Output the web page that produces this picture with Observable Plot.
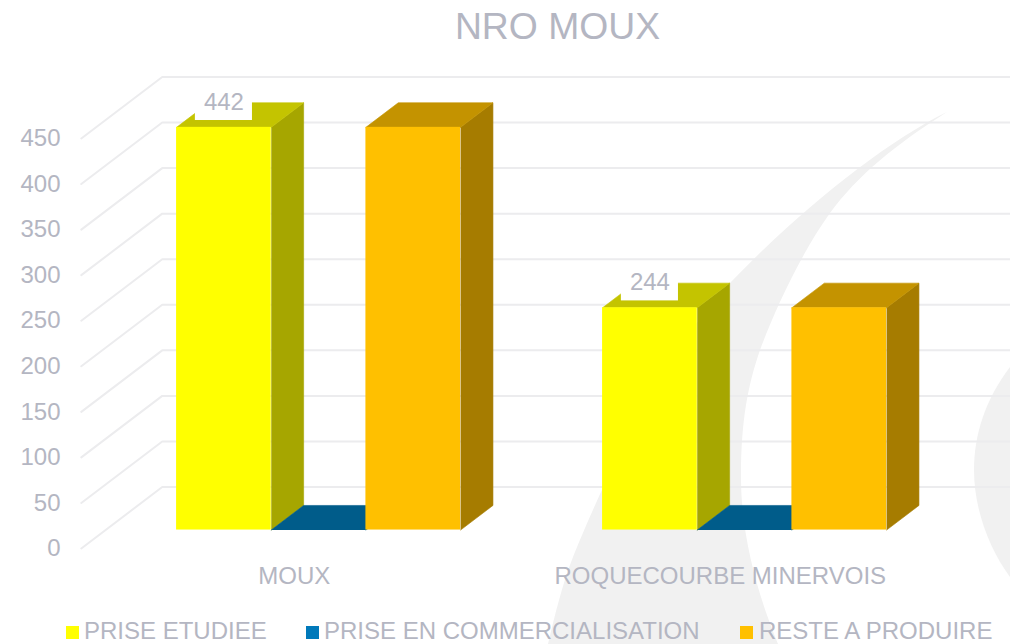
<!DOCTYPE html>
<html>
<head>
<meta charset="utf-8">
<script src="https://cdn.jsdelivr.net/npm/d3@7"></script>
<script src="https://cdn.jsdelivr.net/npm/@observablehq/plot@0.6"></script>
<style>
  html, body { margin: 0; padding: 0; background: #fff; width: 1010px; height: 644px; overflow: hidden; font-family: "Liberation Sans", Arial, sans-serif; }
  #wm { position: absolute; left: 0; top: 0; }
  #title { position: absolute; left: 0; width: 1115px; top: 5px; text-align: center; font-size: 37.3px; color: #B4B6C2; font-weight: 400; margin: 0; }
  #chart { position: absolute; left: 0; top: 56px; }
  .lg { position: absolute; top: 617px; font-size: 24px; color: #B4B6C2; white-space: nowrap; }
  .sw { position: absolute; top: 626px; width: 13px; height: 13px; }
</style>
</head>
<body>
<svg id="wm" width="1010" height="644" viewBox="0 0 1010 644" aria-hidden="true">
  <path fill="#F1F1F1" d="M947 112 C 885 142, 800 210, 730 283 C 670 345, 610 465, 573 557 C 562 585, 555 615, 548 644 L 778 644 C 760 600, 741 540, 741 477 C 741 420, 748 385, 760 350 C 775 310, 800 255, 830 213 C 858 175, 895 145, 947 112 Z"/>
  <path fill="#F1F1F1" d="M1010 367 C 985 400, 974 435, 974 470 C 974 510, 990 550, 1010 577 Z"/>
</svg>
<h1 id="title">NRO MOUX</h1>
<div id="chart"></div>
<div id="legend"></div>
<script>
const categories = ["MOUX", "ROQUECOURBE MINERVOIS"];
const seriesNames = ["PRISE ETUDIEE", "PRISE EN COMMERCIALISATION", "RESTE A PRODUIRE"];
const priseEtudiee = [442, 244];
const priseCommercialisation = [0, 0];
const resteAProduire = [442, 244];
const yTicks = [0, 50, 100, 150, 200, 250, 300, 350, 400, 450];

const frontColors = ["#FFFF00", "#0079BA", "#FFC000"];
const topColors = ["#C4C400", "#005C8A", "#C49300"];
const sideColors = ["#A6A600", "#005C8A", "#A67C00"];
const textColor = "#B4B6C2";

const series = [priseEtudiee, priseCommercialisation, resteAProduire];
// oblique projection: depth d in [0,1] shifts a point right and up
const shiftX = 0.19, shiftY = 67.5;
const gapUnit = 0.75 / 4.5, barUnit = 1 / 4.5;
const P = (x, v, d) => ({x: x + d * shiftX, y: v + d * shiftY});
const D0 = 0.3, D1 = 0.7;

const marks = [];

// wall and floor grid
const grid = yTicks.flatMap(v => [
  {v, ...P(0, v, 0)},
  {v, ...P(0, v, 1)},
  {v, ...P(2.1, v, 1)}
]);
marks.push(Plot.line(grid, {x: "x", y: "y", z: "v", stroke: "#ECECEE", strokeWidth: 2, curve: "linear"}));

const poly = (pts, color) => Plot.line(pts, {x: "x", y: "y", fill: color, stroke: color, strokeWidth: 0.6, curve: "linear"});

categories.forEach((c, ci) => {
  series.forEach((vals, si) => {
    const v = vals[ci];
    const x0 = ci + gapUnit + si * barUnit, x1 = x0 + barUnit;
    // side face
    if (v > 0) marks.push(poly([P(x1, 0, D0), P(x1, 0, D1), P(x1, v, D1), P(x1, v, D0)], sideColors[si]));
    // top face
    marks.push(poly([P(x0, v, D0), P(x0, v, D1), P(x1, v, D1), P(x1, v, D0)], topColors[si]));
    // front face
    if (v > 0) {
      const a = P(x0, 0, D0), b = P(x1, v, D0);
      marks.push(Plot.rect([{x1: a.x, x2: b.x, y1: a.y, y2: b.y}], {x1: "x1", x2: "x2", y1: "y1", y2: "y2", fill: frontColors[si]}));
    }
  });
});

// data labels on the first series
const labels = priseEtudiee.map((v, ci) => {
  const x = ci + gapUnit + barUnit / 2;
  const p = P(x, v, D0);
  return {x: p.x, y: p.y, v};
});
marks.push(Plot.rect(labels, {
  x1: d => d.x - 0.067, x2: d => d.x + 0.067,
  y1: d => d.y + 7.5, y2: d => d.y + 41,
  fill: "white"
}));
marks.push(Plot.text(labels, {
  x: "x", y: "y", text: d => String(d.v),
  dy: -25, fontSize: 24, fill: textColor, textAnchor: "middle", lineAnchor: "middle"
}));

marks.push(Plot.axisY({
  ticks: yTicks, anchor: "left", tickSize: 0, tickPadding: 5,
  fontSize: 24, color: textColor, label: null
}));
marks.push(Plot.axisX({
  ticks: [0.5, 1.5], tickFormat: t => categories[Math.floor(t)], anchor: "bottom",
  tickSize: 0, tickPadding: 0, fontSize: 24, color: textColor, label: null
}));

const plot = Plot.plot({
  width: 1010,
  height: 534,
  marginLeft: 65,
  marginRight: 0,
  marginTop: 0,
  marginBottom: 24,
  style: {fontFamily: '"Liberation Sans", Arial, sans-serif', background: "transparent", overflow: "visible"},
  x: {domain: [0, 2], range: [80.8, 932.8]},
  y: {domain: [0, 450], range: [492, 82]},
  marks
});
document.getElementById("chart").appendChild(plot);

// legend
const legend = document.getElementById("legend");
const swatchLeft = [66, 306, 740], textLeft = [84, 324, 759];
const swatchColors = ["#FFFF00", "#0079BA", "#FFC000"];
seriesNames.forEach((n, i) => {
  const s = document.createElement("span");
  s.className = "sw"; s.style.left = swatchLeft[i] + "px"; s.style.background = swatchColors[i];
  legend.appendChild(s);
  const t = document.createElement("span");
  t.className = "lg"; t.style.left = textLeft[i] + "px"; t.textContent = n;
  legend.appendChild(t);
});
</script>
</body>
</html>
